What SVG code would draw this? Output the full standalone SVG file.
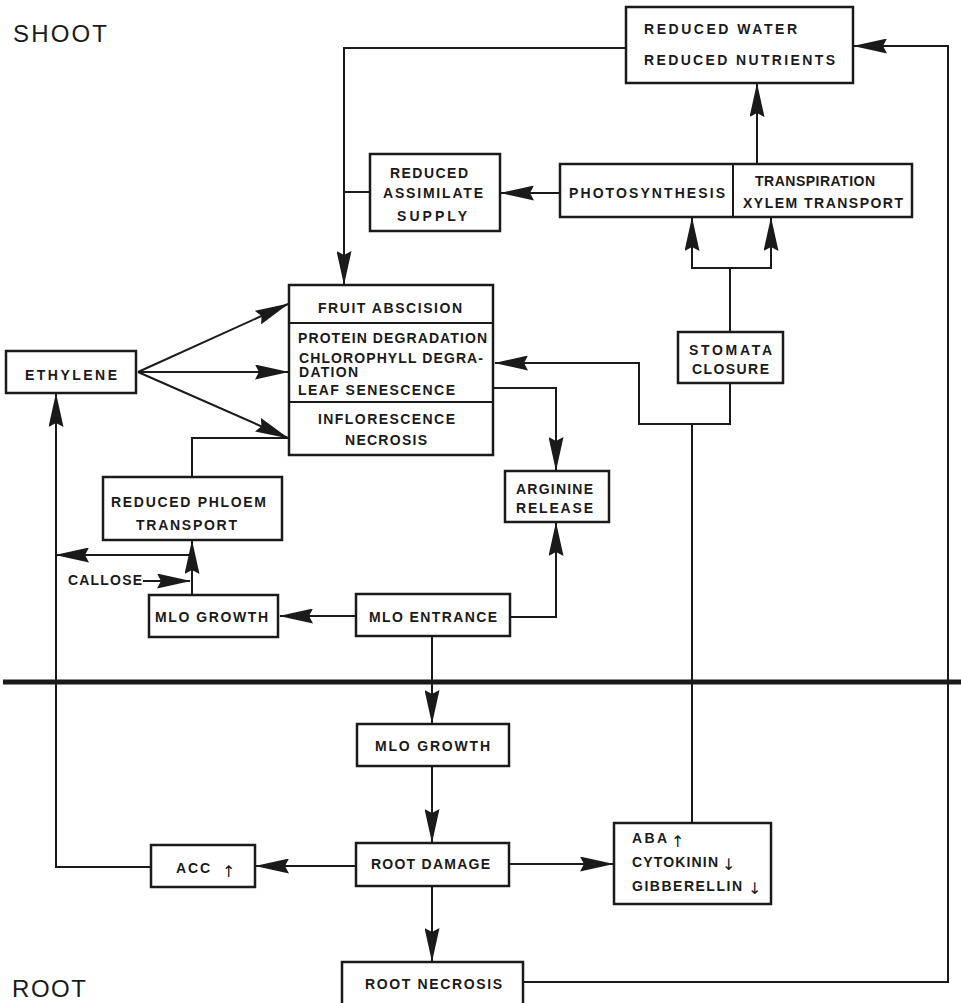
<svg xmlns="http://www.w3.org/2000/svg" width="961" height="1003" viewBox="0 0 961 1003">
<defs>
<style>
.box{fill:#fff;stroke:#1a1a1a;stroke-width:2.5}
.ln{fill:none;stroke:#1a1a1a;stroke-width:2}
.ar{fill:none;stroke:#1a1a1a;stroke-width:2;marker-end:url(#ah)}
.t{font-family:"Liberation Sans",Arial,sans-serif;font-weight:bold;font-size:14px;fill:#1a1a1a}
.s{font-family:"Liberation Sans",Arial,sans-serif;font-weight:bold;font-size:14px;fill:#1a1a1a}
.arr{font-family:"DejaVu Sans",sans-serif;font-size:16px;fill:#1a1a1a}
.big{font-family:"Liberation Sans",Arial,sans-serif;font-size:24px;fill:#1a1a1a}
</style>
<marker id="ah" markerUnits="userSpaceOnUse" markerWidth="34" markerHeight="15" viewBox="0 0 34 15" refX="33" refY="7.5" orient="auto">
<path d="M0,0 L34,7.5 L0,15 L4,7.5 z" fill="#1a1a1a"/>
</marker>
</defs>
<rect width="961" height="1003" fill="#fff"/>

<text class="big" x="13" y="42" textLength="94">SHOOT</text>
<text class="big" x="12" y="997" textLength="74">ROOT</text>
<line x1="3" y1="682" x2="961" y2="682" stroke="#1a1a1a" stroke-width="5"/>

<g id="connectors">
<polyline class="ar" points="626,48 344,48 344,284"/>
<line class="ln" x1="370" y1="192" x2="344" y2="192"/>
<line class="ar" x1="560" y1="193" x2="501" y2="193"/>
<line class="ar" x1="757" y1="164" x2="757" y2="84"/>
<polyline class="ln" points="730,332 730,268"/>
<polyline class="ar" points="730,268 692,268 692,218"/>
<polyline class="ar" points="730,268 771,268 771,218"/>
<polyline class="ar" points="523,982 948,982 948,46 854,46"/>
<line class="ar" x1="138" y1="372" x2="288" y2="304"/>
<line class="ar" x1="138" y1="372" x2="288" y2="372"/>
<line class="ar" x1="138" y1="372" x2="288" y2="438"/>
<polyline class="ln" points="192,477 192,438 288,438"/>
<polyline class="ar" points="151,867 56,867 56,394"/>
<line class="ar" x1="192" y1="555" x2="56" y2="555"/>
<line class="ar" x1="192" y1="595" x2="192" y2="541"/>
<line class="ar" x1="143" y1="581" x2="190" y2="581"/>
<line class="ar" x1="356" y1="616" x2="280" y2="616"/>
<polyline class="ar" points="510,617 556,617 556,523"/>
<polyline class="ar" points="494,388 556,388 556,470"/>
<polyline class="ln" points="692,823 692,424"/>
<polyline class="ar" points="730,383 730,424 639,424 639,363 495,363"/>
<line class="ar" x1="432" y1="636" x2="432" y2="723"/>
<line class="ar" x1="432" y1="766" x2="432" y2="842"/>
<line class="ar" x1="356" y1="866" x2="256" y2="866"/>
<line class="ar" x1="509" y1="864" x2="613" y2="864"/>
<line class="ar" x1="432" y1="886" x2="432" y2="961"/>
</g>

<g id="reduced-water">
<rect class="box" x="626" y="7" width="227" height="76"/>
<text class="t" x="644" y="34" textLength="153">REDUCED WATER</text>
<text class="t" x="644" y="65" textLength="191">REDUCED NUTRIENTS</text>
</g>
<g id="reduced-assimilate">
<rect class="box" x="370" y="154" width="130" height="77"/>
<text class="t" x="390" y="178" textLength="78">REDUCED</text>
<text class="t" x="383" y="198" textLength="100">ASSIMILATE</text>
<text class="t" x="397" y="221" textLength="70">SUPPLY</text>
</g>
<g id="photosynthesis">
<rect class="box" x="560" y="164" width="352" height="53"/>
<line class="ln" x1="733" y1="164" x2="733" y2="217" stroke-width="2.5"/>
<text class="t" x="569" y="198" textLength="156">PHOTOSYNTHESIS</text>
<text class="t" x="755" y="186" textLength="120">TRANSPIRATION</text>
<text class="t" x="743" y="208" textLength="160">XYLEM TRANSPORT</text>
</g>
<g id="fruit">
<rect class="box" x="289" y="285" width="204" height="170"/>
<line class="ln" x1="289" y1="323" x2="493" y2="323"/>
<line class="ln" x1="289" y1="402" x2="493" y2="402"/>
<text class="t" x="318" y="313" textLength="144">FRUIT ABSCISION</text>
<text class="t" x="298" y="343" textLength="189">PROTEIN DEGRADATION</text>
<text class="t" x="299" y="363" textLength="184">CHLOROPHYLL DEGRA-</text>
<text class="t" x="299" y="377" textLength="59">DATION</text>
<text class="t" x="298" y="395" textLength="157">LEAF SENESCENCE</text>
<text class="t" x="318" y="424" textLength="137">INFLORESCENCE</text>
<text class="t" x="345" y="445" textLength="82">NECROSIS</text>
</g>
<g id="ethylene">
<rect class="box" x="6" y="351" width="130" height="42"/>
<text class="t" x="25" y="380" textLength="92">ETHYLENE</text>
</g>
<g id="stomata">
<rect class="box" x="678" y="332" width="105" height="51"/>
<text class="t" x="689" y="355" textLength="83">STOMATA</text>
<text class="t" x="692" y="374" textLength="77">CLOSURE</text>
</g>
<g id="phloem">
<rect class="box" x="103" y="477" width="179" height="63"/>
<text class="t" x="111" y="507" textLength="155">REDUCED PHLOEM</text>
<text class="t" x="136" y="530" textLength="101">TRANSPORT</text>
</g>
<g id="callose">
<text class="t" x="68" y="585" textLength="74">CALLOSE</text>
</g>
<g id="arginine">
<rect class="box" x="505" y="471" width="104" height="51"/>
<text class="t" x="516" y="494" textLength="77">ARGININE</text>
<text class="t" x="516" y="513" textLength="77">RELEASE</text>
</g>
<g id="mlo-growth-shoot">
<rect class="box" x="149" y="595" width="129" height="42"/>
<text class="t" x="155" y="622" textLength="113">MLO GROWTH</text>
</g>
<g id="mlo-entrance">
<rect class="box" x="356" y="594" width="154" height="42"/>
<text class="t" x="369" y="622" textLength="128">MLO ENTRANCE</text>
</g>
<g id="mlo-growth-root">
<rect class="box" x="357" y="724" width="152" height="42"/>
<text class="s" x="375" y="751" textLength="115">MLO GROWTH</text>
</g>
<g id="root-damage">
<rect class="box" x="356" y="843" width="153" height="43"/>
<text class="s" x="371" y="869" textLength="119">ROOT DAMAGE</text>
</g>
<g id="acc">
<rect class="box" x="151" y="845" width="104" height="42"/>
<text class="s" x="176" y="873" textLength="34">ACC</text>
<text class="arr" x="222" y="877">↑</text>
</g>
<g id="hormones">
<rect class="box" x="614" y="823" width="157" height="81"/>
<text class="s" x="632" y="843" textLength="35">ABA</text>
<text class="arr" x="671" y="847">↑</text>
<text class="s" x="632" y="867" textLength="86">CYTOKININ</text>
<text class="arr" x="722" y="870">↓</text>
<text class="s" x="632" y="891" textLength="110">GIBBERELLIN</text>
<text class="arr" x="748" y="894">↓</text>
</g>
<g id="root-necrosis">
<rect class="box" x="342" y="962" width="181" height="50"/>
<text class="s" x="365" y="989" textLength="137">ROOT NECROSIS</text>
</g>
</svg>
